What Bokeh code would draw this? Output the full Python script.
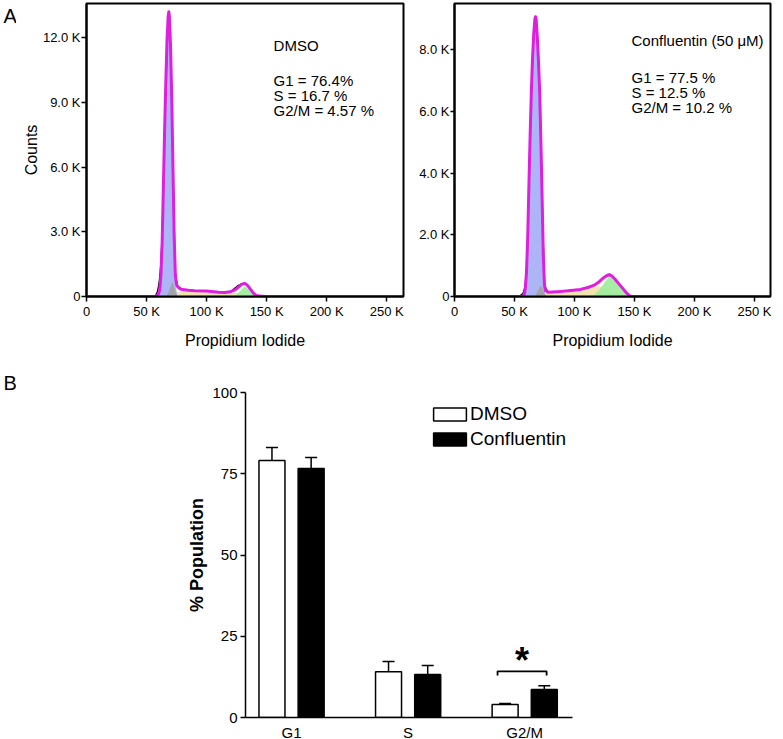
from bokeh.plotting import figure
from bokeh.layouts import column, row
from bokeh.models import (Range1d, FixedTicker, Label, Legend, LegendItem,
                          Whisker, TeeHead, ColumnDataSource)
from bokeh.embed import file_html
from bokeh.resources import INLINE

FONT = "Liberation Sans"

# ---------------- Panel A (x: propidium iodide in K units, y: counts in K) ----------------
# DMSO
dmso_fit_x = [0, 58, 59, 60, 61, 62, 63, 64, 65, 66, 67, 68, 68.6, 69, 70, 71, 72, 73, 74, 75,
              76, 78, 80, 85, 90, 100, 110, 115, 120, 124, 127, 129, 131, 132, 133, 135, 137, 139,
              141, 143, 150, 262]
dmso_fit_y = [0, 0, 0.05, 0.12, 0.3, 1.0, 2.5, 5.0, 7.6, 9.8, 11.8, 13.0, 13.2, 13.0, 11.6, 9.2,
              6.0, 2.8, 1.0, 0.55, 0.45, 0.36, 0.32, 0.29, 0.27, 0.25, 0.2, 0.19, 0.22, 0.32, 0.46,
              0.56, 0.6, 0.6, 0.57, 0.46, 0.3, 0.16, 0.06, 0.02, 0, 0]
dmso_data_x = [0, 56, 57, 58, 59, 60, 61, 62, 63, 64, 66, 68, 69, 70, 72, 74, 76, 80, 90, 100,
               110, 120, 126, 130, 132, 134, 138, 142, 150, 262]
dmso_data_y = [0, 0, 0.03, 0.1, 0.22, 0.48, 0.9, 1.6, 2.9, 5.0, 9.7, 12.9, 13.0, 11.5, 6.0, 1.0,
               0.45, 0.33, 0.27, 0.25, 0.2, 0.23, 0.5, 0.6, 0.6, 0.52, 0.22, 0.03, 0, 0]
dmso_g1_x = [59, 60, 61, 62, 63, 64, 65, 66, 67, 68, 68.6, 69, 70, 71, 72, 73, 74, 75, 76]
dmso_g1_y = [0, 0.1, 0.25, 0.9, 2.3, 4.8, 7.4, 9.6, 11.6, 12.8, 13.0, 12.8, 11.3, 8.9, 5.7, 2.5,
             0.8, 0.25, 0]
dmso_debris_x = [66, 68, 70, 71.5, 73, 74.5, 76]
dmso_debris_y = [0, 0.15, 0.45, 0.68, 0.45, 0.15, 0]
dmso_s_x = [70, 74, 78, 85, 95, 105, 115, 122, 128, 133, 138, 142]
dmso_s_y = [0, 0.15, 0.24, 0.26, 0.24, 0.21, 0.18, 0.17, 0.15, 0.1, 0.04, 0]
dmso_g2_x = [121, 124, 127, 129, 131, 132, 133, 135, 137, 139, 142]
dmso_g2_y = [0, 0.06, 0.2, 0.33, 0.43, 0.45, 0.43, 0.33, 0.18, 0.08, 0]
dmso_text = ["DMSO", "G1 = 76.4%", "S = 16.7 %", "G2/M = 4.57 %"]

# Confluentin (50 uM)
conf_fit_x = [0, 57, 58, 59, 60, 61, 62, 63, 64, 65, 66, 67, 67.5, 68, 69, 70, 71, 72, 73, 74,
              75, 76, 78, 85, 95, 105, 112, 117, 120, 124, 127, 129, 131, 134, 137, 140, 143, 146,
              148, 262]
conf_fit_y = [0, 0, 0.05, 0.25, 0.8, 1.9, 3.6, 5.2, 6.6, 7.7, 8.5, 9.0, 9.06, 9.0, 8.4, 7.6, 6.6,
              5.0, 3.2, 1.3, 0.35, 0.18, 0.14, 0.15, 0.19, 0.23, 0.3, 0.38, 0.46, 0.6, 0.68, 0.71,
              0.67, 0.55, 0.41, 0.27, 0.13, 0.02, 0, 0]
conf_data_x = [0, 53, 55, 57, 58, 59, 60, 61, 62, 64, 66, 67.5, 69, 71, 73, 75, 78, 90, 105, 117,
               124, 129, 134, 140, 146, 150, 262]
conf_data_y = [0, 0, 0.04, 0.1, 0.2, 0.4, 0.9, 1.9, 3.5, 6.5, 8.5, 9.0, 8.4, 6.6, 3.2, 0.35, 0.14,
               0.17, 0.23, 0.38, 0.6, 0.71, 0.55, 0.27, 0.02, 0, 0]
conf_g1_x = [58, 59, 60, 61, 62, 63, 64, 65, 66, 67, 67.5, 68, 69, 70, 71, 72, 73, 74, 75, 76]
conf_g1_y = [0, 0.2, 0.75, 1.8, 3.5, 5.1, 6.5, 7.6, 8.4, 8.9, 8.96, 8.9, 8.3, 7.5, 6.5, 4.9, 3.1,
             1.2, 0.25, 0]
conf_debris_x = [67, 69, 71, 72, 73, 75, 77]
conf_debris_y = [0, 0.15, 0.3, 0.35, 0.3, 0.1, 0]
conf_s_x = [72, 78, 85, 95, 105, 112, 117, 121, 125, 130, 135, 140]
conf_s_y = [0, 0.12, 0.15, 0.19, 0.23, 0.28, 0.32, 0.33, 0.28, 0.16, 0.06, 0]
conf_g2_x = [112, 116, 120, 124, 127, 129, 131, 134, 137, 140, 143, 146]
conf_g2_y = [0, 0.05, 0.18, 0.4, 0.56, 0.62, 0.6, 0.5, 0.37, 0.23, 0.1, 0]
conf_text = ["Confluentin (50 \u03bcM)", "G1 = 77.5 %", "S = 12.5 %", "G2/M = 10.2 %"]

pi_ticks = [0, 50, 100, 150, 200, 250]
pi_tick_labels = ["0", "50 K", "100 K", "150 K", "200 K", "250 K"]
dmso_count_ticks = [0, 3, 6, 9, 12]
dmso_count_labels = ["0", "3.0 K", "6.0 K", "9.0 K", "12.0 K"]
conf_count_ticks = [0, 2, 4, 6, 8]
conf_count_labels = ["0", "2.0 K", "4.0 K", "6.0 K", "8.0 K"]

# ---------------- Panel B ----------------
phases = ["G1", "S", "G2/M"]
dmso_mean = [79.1, 14.1, 4.0]
dmso_sem = [4.0, 3.1, 0.3]
conf_mean = [76.6, 13.2, 8.6]
conf_sem = [3.4, 2.8, 1.2]
pop_ticks = [0, 25, 50, 75, 100]

BLUE = "#a9b1f5"
MAGENTA = "#e01ee0"
GRAY = "#a3a3a3"
YELLOW = "#eee2a6"
GREEN = "#9cec9c"

PAGE_H = 739
LETTER_W = 16


def histogram(fit_x, fit_y, data_x, data_y, g1_x, g1_y, deb_x, deb_y, s_x, s_y, g2_x, g2_y,
              y_top, yticks, ylabels, ylabel, border_left, border_right, frame_w, x_end,
              texts, text_x, text_ys):
    p = figure(frame_width=frame_w, frame_height=293, min_border_left=border_left,
               min_border_right=border_right, min_border_top=3, min_border_bottom=54,
               x_range=Range1d(0, x_end), y_range=Range1d(0, y_top),
               output_backend="svg", toolbar_location=None)
    p.xgrid.visible = False
    p.ygrid.visible = False
    p.outline_line_color = "black"
    p.outline_line_width = 2
    p.background_fill_color = "white"
    p.border_fill_color = "white"

    p.varea(x=s_x, y1=0, y2=s_y, fill_color=YELLOW, fill_alpha=0.9)
    p.varea(x=g2_x, y1=0, y2=g2_y, fill_color=GREEN, fill_alpha=0.9)
    p.varea(x=g1_x, y1=0, y2=g1_y, fill_color=BLUE, fill_alpha=0.95)
    p.varea(x=deb_x, y1=0, y2=deb_y, fill_color=GRAY, fill_alpha=0.95)
    p.line(x=data_x, y=data_y, line_color="black", line_width=1.3)
    p.line(x=fit_x, y=fit_y, line_color=MAGENTA, line_width=3, line_join="round")

    xa = p.xaxis[0]
    xa.ticker = FixedTicker(ticks=pi_ticks)
    xa.major_label_overrides = {t: l for t, l in zip(pi_ticks, pi_tick_labels)}
    xa.axis_label = "Propidium Iodide"
    ya = p.yaxis[0]
    ya.ticker = FixedTicker(ticks=yticks)
    ya.major_label_overrides = {t: l for t, l in zip(yticks, ylabels)}
    ya.axis_label = ylabel
    for ax in (xa, ya):
        ax.axis_line_color = "black"
        ax.axis_line_width = 2
        ax.major_tick_line_color = "black"
        ax.major_tick_line_width = 1.5
        ax.major_tick_out = 5
        ax.major_tick_in = 0
        ax.minor_tick_line_color = None
        ax.major_label_text_font = FONT
        ax.major_label_text_font_size = "13px"
        ax.major_label_text_color = "black"
        ax.axis_label_text_font = FONT
        ax.axis_label_text_font_size = "16px"
        ax.axis_label_text_font_style = "normal"
        ax.axis_label_text_color = "black"
    xa.major_label_standoff = 2
    xa.axis_label_standoff = 10
    ya.major_label_standoff = 1
    ya.axis_label_standoff = 0

    for t, ty in zip(texts, text_ys):
        p.add_layout(Label(x=text_x, y=ty, text=t, text_font=FONT, text_font_size="15px",
                           text_baseline="middle", text_align="left", text_color="black"))
    return p


# narrow strip on the left carrying the panel letters
letters = figure(frame_width=LETTER_W, frame_height=PAGE_H, min_border=0,
                 x_range=Range1d(0, LETTER_W), y_range=Range1d(PAGE_H, 0),
                 x_axis_location=None, y_axis_location=None,
                 output_backend="svg", toolbar_location=None)
letters.xgrid.visible = False
letters.ygrid.visible = False
letters.outline_line_color = None
for letter, ly in (("A", 15), ("B", 382)):
    letters.add_layout(Label(x=3, y=ly, text=letter, text_font=FONT, text_font_size="20px",
                             text_baseline="middle", text_align="left", text_color="black"))

p1 = histogram(dmso_fit_x, dmso_fit_y, dmso_data_x, dmso_data_y, dmso_g1_x, dmso_g1_y,
               dmso_debris_x, dmso_debris_y, dmso_s_x, dmso_s_y, dmso_g2_x, dmso_g2_y,
               13.58, dmso_count_ticks, dmso_count_labels, "Counts", 70, 5, 317, 264,
               dmso_text, 155.8, [11.63, 10.01, 9.31, 8.62])

p2 = histogram(conf_fit_x, conf_fit_y, conf_data_x, conf_data_y, conf_g1_x, conf_g1_y,
               conf_debris_x, conf_debris_y, conf_s_x, conf_s_y, conf_g2_x, conf_g2_y,
               9.49, conf_count_ticks, conf_count_labels, "", 46, 13, 316, 263.3,
               conf_text, 147.5, [8.28, 7.09, 6.60, 6.12])
p2.yaxis[0].major_tick_out = 4

# ---------------- Panel B : bar chart ----------------
idx = list(range(len(phases)))
off = 0.168
bw = 0.223
dmso_src = ColumnDataSource(dict(x=[i - off for i in idx], top=dmso_mean,
                                 upper=[m + e for m, e in zip(dmso_mean, dmso_sem)]))
conf_src = ColumnDataSource(dict(x=[i + off for i in idx], top=conf_mean,
                                 upper=[m + e for m, e in zip(conf_mean, conf_sem)]))

p3 = figure(frame_width=327, frame_height=325, min_border_left=229, min_border_right=211,
            min_border_top=41, min_border_bottom=23,
            x_range=Range1d(-0.395, 2.41), y_range=Range1d(0, 100),
            output_backend="svg", toolbar_location=None)
p3.xgrid.visible = False
p3.ygrid.visible = False
p3.outline_line_color = None
p3.background_fill_color = "white"
p3.border_fill_color = "white"

r_dmso = p3.vbar(x="x", top="top", width=bw, source=dmso_src, fill_color="white",
                 line_color="black", line_width=1.5)
r_conf = p3.vbar(x="x", top="top", width=bw, source=conf_src, fill_color="black",
                 line_color="black", line_width=1.5)
for src in (dmso_src, conf_src):
    p3.add_layout(Whisker(source=src, base="x", lower="top", upper="upper",
                          line_color="black", line_width=1.5,
                          upper_head=TeeHead(size=12, line_color="black", line_width=1.5),
                          lower_head=None))

# significance bracket over G2/M
g = 2
xa_b = g - off - 0.065
xb_b = g + off + 0.02
yb = max(dmso_mean[g] + dmso_sem[g], conf_mean[g] + conf_sem[g]) + 4.4
p3.line(x=[xa_b, xa_b, xb_b, xb_b], y=[yb - 1.3, yb, yb, yb - 1.3], line_color="black",
        line_width=1.8)
p3.add_layout(Label(x=(xa_b + xb_b) / 2, y=yb + 3.3, text="*", text_font=FONT,
                    text_font_size="36px", text_font_style="bold", text_align="center",
                    text_baseline="alphabetic", text_color="black"))

legend = Legend(items=[LegendItem(label="DMSO", renderers=[r_dmso]),
                       LegendItem(label="Confluentin", renderers=[r_conf])],
                location=(184, 267), orientation="vertical", glyph_width=41, glyph_height=16,
                label_standoff=0, label_height=22, spacing=3, padding=0, margin=0,
                label_text_font=FONT, label_text_font_size="19px", label_text_color="black",
                border_line_alpha=0, background_fill_alpha=0)
p3.add_layout(legend)

xa3 = p3.xaxis[0]
xa3.ticker = FixedTicker(ticks=idx)
xa3.major_label_overrides = {i: ph for i, ph in zip(idx, phases)}
xa3.major_tick_out = 0
xa3.major_tick_in = 0
xa3.major_label_standoff = 6
ya3 = p3.yaxis[0]
ya3.ticker = FixedTicker(ticks=pop_ticks)
ya3.axis_label = "% Population"
ya3.major_tick_out = 5
ya3.major_tick_in = 0
ya3.major_label_standoff = 3
ya3.axis_label_standoff = 2
for ax in (xa3, ya3):
    ax.axis_line_color = "black"
    ax.axis_line_width = 1.5
    ax.major_tick_line_color = "black"
    ax.major_tick_line_width = 1.5
    ax.minor_tick_line_color = None
    ax.major_label_text_font = FONT
    ax.major_label_text_font_size = "15px"
    ax.major_label_text_color = "black"
    ax.axis_label_text_font = FONT
    ax.axis_label_text_font_size = "18px"
    ax.axis_label_text_font_style = "bold"
    ax.axis_label_text_color = "black"

layout = row(letters, column(row(p1, p2), p3))
open("out.html", "w").write(file_html(layout, INLINE))
